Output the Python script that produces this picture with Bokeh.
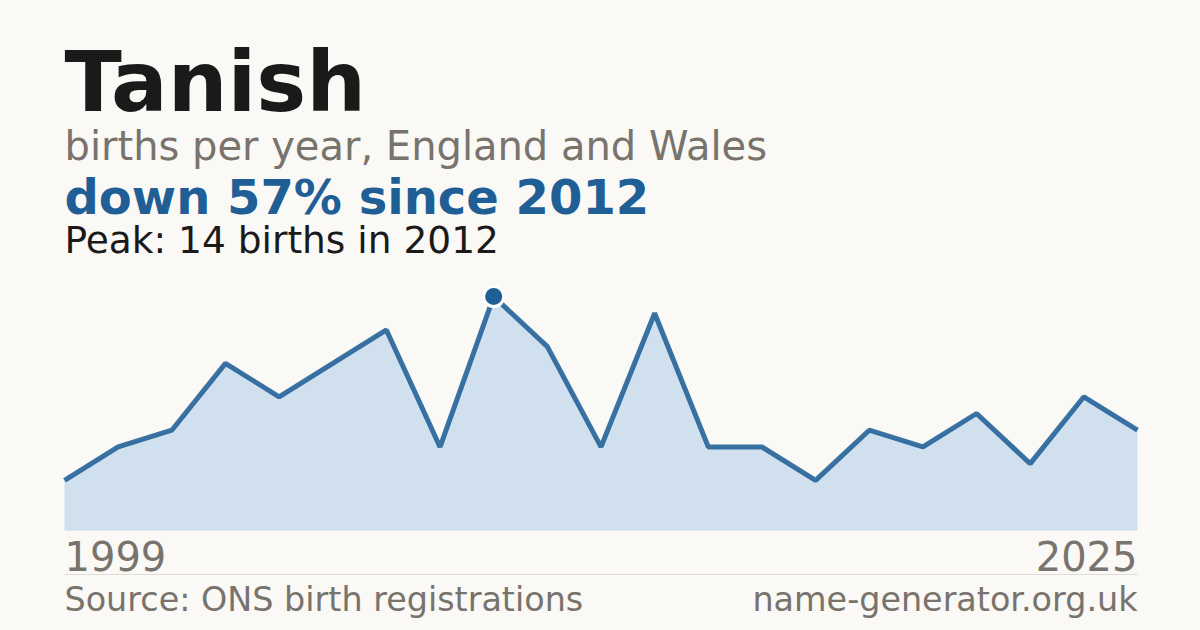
from bokeh.plotting import figure
from bokeh.models import Label, Range1d, ColumnDataSource
from bokeh.embed import file_html
from bokeh.resources import INLINE

# ---- data ----
years = [1999, 2001, 2003, 2005, 2006, 2007, 2008, 2010, 2012, 2013, 2014,
         2015, 2016, 2017, 2018, 2019, 2021, 2022, 2023, 2024, 2025]
births = [3, 5, 6, 10, 8, 10, 12, 5, 14, 11, 5, 13, 5, 5, 3, 6, 5, 7, 4, 8, 6]
peak_year = 2012
peak_value = 14
name = "Tanish"
subtitle = "births per year, England and Wales"
change_text = "down 57% since 2012"
peak_text = "Peak: 14 births in 2012"
first_label = str(years[0])
last_label = str(years[-1])
source_text = "Source: ONS birth registrations"
site_text = "name-generator.org.uk"

BG = "#faf9f5"
BLUE = "#1f5f96"
FILL = "#d0e0ef"
GRAY = "#78736c"
DARK = "#1a1a1a"
FONT = "DejaVu Sans"

W, H = 1200, 630
idx = list(range(len(years)))

LEFT, RIGHT = 64, 1137
BASE, TOP = 530, 296
px_per = (RIGHT - LEFT) / (len(years) - 1)
x0 = -LEFT / px_per
x1 = (len(years) - 1) + (W - RIGHT) / px_per
py_per = (BASE - TOP) / peak_value
y0 = -(H - BASE) / py_per
y1 = BASE / py_per

p = figure(width=W, height=H, output_backend="svg", toolbar_location=None,
           x_range=Range1d(x0, x1), y_range=Range1d(y0, y1),
           min_border=0, background_fill_color=BG, border_fill_color=BG)
p.axis.visible = False
p.grid.visible = False
p.outline_line_color = None

src = ColumnDataSource(dict(x=idx, y=births, base=[0] * len(births)))
p.varea(x="x", y1="base", y2="y", source=src, fill_color=FILL)
p.line(x="x", y="y", source=src, line_color=BLUE, line_width=5, line_alpha=0.88)

pi = years.index(peak_year)
p.scatter(x=[pi], y=[births[pi]], size=20, fill_color=BLUE, line_color="white",
          line_width=3)

def lab(text, x, baseline, size, color, bold=False, align="left"):
    p.add_layout(Label(x=x, y=H - baseline + 0.36 * size,
                       x_units="screen", y_units="screen", text=text,
                       text_font=FONT, text_font_size=f"{size}px",
                       text_color=color, text_align=align,
                       text_baseline="alphabetic",
                       text_font_style="bold" if bold else "normal"))

lab(name, LEFT, 112, 84, DARK, bold=True)
lab(subtitle, LEFT, 160, 40, GRAY)
lab(change_text, LEFT, 214, 48, BLUE, bold=True)
lab(peak_text, LEFT, 253, 37.5, DARK)
lab(first_label, LEFT, 570, 40, GRAY)
lab(last_label, RIGHT, 570, 40, GRAY, align="right")
lab(source_text, LEFT, 611, 33.4, GRAY)
lab(site_text, RIGHT, 611, 33.4, GRAY, align="right")

# separator line
sep_y = -(574 - BASE) / py_per
p.segment(x0=[0], x1=[len(years) - 1], y0=[sep_y], y1=[sep_y],
          line_color="#e0ddd6", line_width=1)

open("out.html", "w").write(file_html(p, INLINE))
